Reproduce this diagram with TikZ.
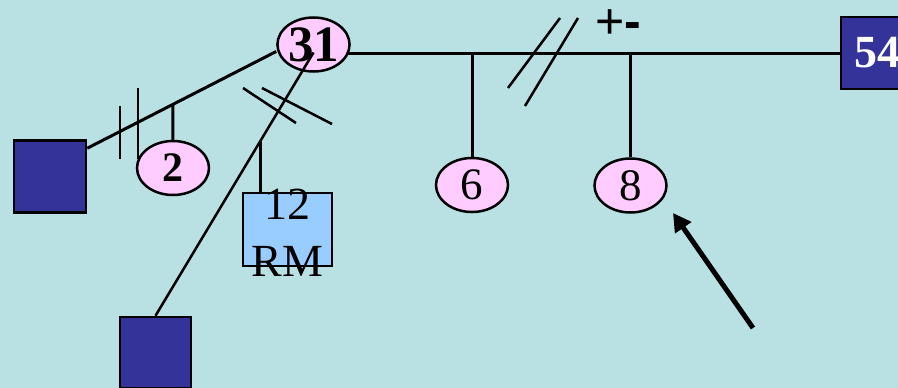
\documentclass[tikz,border=0pt]{standalone}
\usepackage{fontspec}
\setmainfont{Liberation Serif}
\newfontfamily\sansf{Liberation Sans}
\usetikzlibrary{arrows.meta,shapes.geometric}
\definecolor{bg}{RGB}{185,224,227}
\definecolor{navy}{RGB}{51,51,153}
\definecolor{pinkf}{RGB}{255,204,255}
\definecolor{lblue}{RGB}{153,204,255}
\begin{document}
\begin{tikzpicture}[x=1pt,y=-1pt,
  wire/.style={line width=3pt},
  thinwire/.style={line width=2.5pt},
  tick/.style={line width=2.5pt},
  oval/.style={ellipse,draw,line width=2.5pt,fill=pinkf,minimum width=72pt,minimum height=54pt,inner sep=0pt},
  navybox/.style={rectangle,draw,line width=2.5pt,fill=navy,minimum width=72pt,minimum height=72pt,inner sep=0pt},
  rmbox/.style={rectangle,draw,line width=2.5pt,fill=lblue,minimum width=89pt,minimum height=73pt,inner sep=0pt},
  bignum/.style={font=\fontsize{51}{51}\selectfont\bfseries},
  midnum/.style={font=\fontsize{42}{42}\selectfont\bfseries},
  plainnum/.style={font=\fontsize{45}{45}\selectfont}
]
\fill[bg] (0,0) rectangle (898,388);
\useasboundingbox (0,0) rectangle (898,388);

% nodes
\node[navybox] (sqL) at (50,176.5) {};
\node[navybox,minimum width=71pt,minimum height=71pt] (sqB) at (155.5,352.5) {};
\node[navybox,text=white,font=\fontsize{46}{46}\selectfont\bfseries] (n54) at (877,53) {54};
\node[oval,bignum] (n31) at (313.5,44.5) {31};
\node[oval,midnum] (n2) at (173,168) {2};
\node[oval,plainnum] (n6) at (472,185) {6};
\node[oval,plainnum] (n8) at (630.5,185.5) {8};
\node[rmbox] (n12) at (287.5,229.5) {};
\node[font=\fontsize{46}{57}\selectfont,align=center,inner sep=0pt] (t12) at ([yshift=-3pt]n12.center) {12\\RM};
\node[font=\sansf\fontsize{50}{50}\selectfont,anchor=base west,inner sep=0pt] (pm) at (595,38) {+\textbf{-}};

% left branch
\draw[wire] ([yshift=-9pt]sqL.north east) -- coordinate[pos=0.453] (j2) ([yshift=-7pt]n31.west);
\draw[wire] (j2) -- (n2);
\draw[tick] (120,106) -- (120,159);
\draw[tick] (138,88) -- (138,159);

% main line
\draw[wire] (n54.west) -- ([xshift=-3pt]n54.west -| n31.east);
\coordinate (j6) at (n6 |- n54.west);
\coordinate (j8) at (n8 |- n54.west);
\draw[wire] (j6) -- (n6);
\draw[wire] (j8) -- (n8);
\draw[tick] (508,88) -- (560,18);
\draw[tick] (525,106) -- (578,18);

% slanted branch
\draw[thinwire] (sqB.north) -- coordinate[pos=0.665] (j12) ([yshift=-8pt]n31.center);
\draw[wire] (j12) -- (j12 |- n12.north);
\draw[tick] (243,88) -- (296,123);
\draw[tick] (262,88) -- (332,124);

% arrow
\coordinate (atail) at (753,328);
\coordinate (ahead) at (673,213);
\draw[line width=5pt,-{Triangle[length=18pt,width=19pt]}] (atail) -- (ahead);
\end{tikzpicture}
\end{document}
